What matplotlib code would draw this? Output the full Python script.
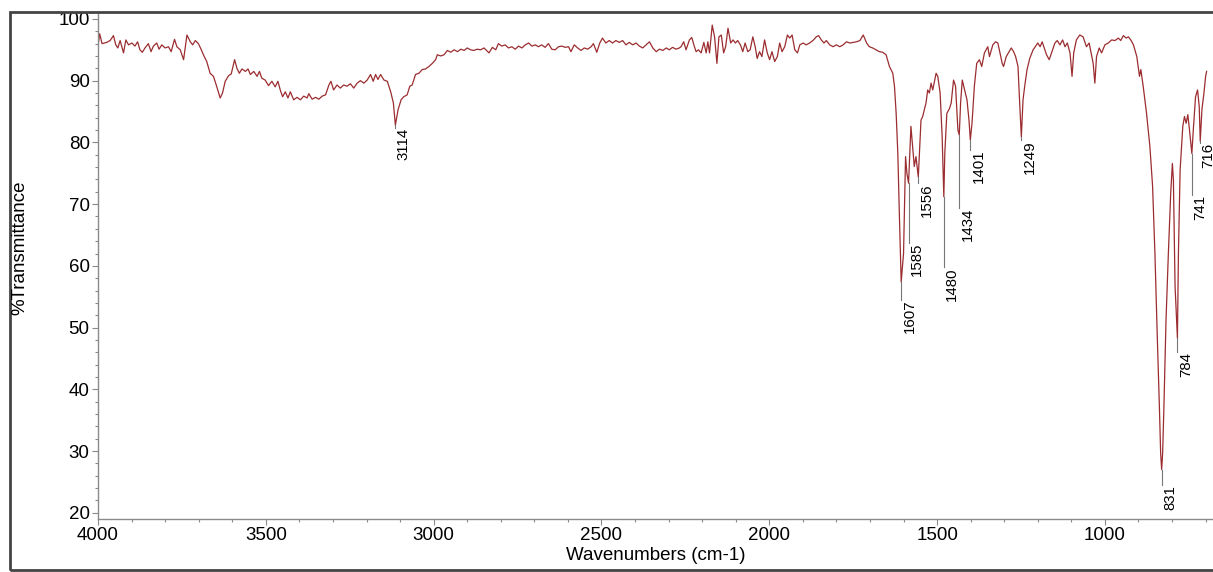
import matplotlib.pyplot as plt
from matplotlib.patches import Rectangle
from matplotlib.ticker import MultipleLocator

plt.rcParams['font.family'] = ['Liberation Sans', 'DejaVu Sans']

# spectrum (cm-1, %T)
wavenumber = [
    4000, 3995, 3988, 3974, 3964, 3954, 3947, 3941, 3934, 3924, 3917, 3909, 3899, 3890, 3882, 3875,
    3868, 3860, 3850, 3842, 3835, 3825, 3818, 3810, 3800, 3790, 3782, 3772, 3765, 3755, 3745, 3735,
    3725, 3718, 3710, 3701, 3693, 3686, 3676, 3666, 3656, 3646, 3636, 3629, 3621, 3611, 3603, 3593,
    3586, 3579, 3571, 3561, 3553, 3546, 3536, 3526, 3519, 3512, 3502, 3492, 3482, 3472, 3464, 3457,
    3450, 3442, 3434, 3427, 3417,
    3407, 3397, 3387, 3377, 3372, 3362, 3352, 3342, 3332, 3322, 3312, 3306, 3298, 3288, 3278, 3268,
    3258, 3248, 3238, 3228, 3218, 3208, 3198, 3188, 3180, 3173, 3166, 3158, 3148, 3138, 3128, 3120,
    3114, 3106, 3097, 3089, 3079, 3071, 3064, 3054, 3044, 3034, 3024, 3014, 3004, 2994, 2989, 2979,
    2969, 2959, 2949, 2939, 2929, 2919, 2909, 2900, 2890, 2880, 2870, 2860, 2850,
    2835, 2825, 2815, 2807, 2797, 2787, 2777, 2767, 2757, 2747, 2737, 2727, 2717, 2707, 2697, 2688,
    2678, 2668, 2658, 2648, 2638, 2628, 2618, 2608, 2598, 2591, 2581, 2571, 2561, 2551, 2541, 2531,
    2524, 2514, 2505, 2497, 2487, 2477, 2467, 2457, 2447, 2437, 2427, 2417, 2407, 2397, 2387, 2377,
    2367, 2357, 2347, 2337, 2327, 2317, 2307, 2298, 2288, 2278, 2268,
    2263, 2255, 2248, 2238, 2231, 2223, 2218, 2211, 2203, 2195, 2188, 2183, 2178, 2170, 2163, 2156,
    2150, 2143, 2136, 2130, 2123, 2115, 2108, 2101, 2094, 2086, 2079, 2072, 2064, 2057, 2049, 2042,
    2036, 2029, 2022, 2014, 2006, 1999, 1992, 1984, 1976, 1969, 1962, 1954, 1946, 1939, 1932, 1924,
    1916, 1909, 1899, 1890, 1880, 1870, 1860, 1853, 1845, 1837, 1830, 1820, 1810, 1800, 1790, 1780,
    1770, 1760, 1750, 1740, 1730, 1720, 1710,
    1702, 1692, 1682, 1672, 1662, 1652, 1642, 1632, 1627, 1622, 1617, 1612, 1607, 1600, 1594, 1590,
    1585, 1578, 1568, 1563, 1556, 1548, 1543, 1533, 1528, 1523, 1518, 1513, 1503, 1498, 1491, 1485,
    1480, 1477, 1471, 1463, 1458, 1451, 1445, 1438, 1434, 1430, 1425, 1418, 1411, 1405, 1401, 1396,
    1389, 1382, 1374, 1367, 1359, 1349, 1344, 1334, 1326, 1319, 1306, 1302, 1294, 1279, 1272, 1266,
    1259, 1254, 1249, 1244, 1239, 1232, 1224, 1214, 1200, 1193, 1187,
    1174, 1166, 1159, 1149, 1142, 1134, 1126, 1119, 1112, 1104, 1098, 1093, 1085, 1075, 1065, 1055,
    1047, 1040, 1035, 1030, 1025, 1017, 1010, 1000, 990, 980, 970, 960, 953, 945, 937, 930,
    923, 915, 905, 897, 893, 886, 876, 866, 858, 851, 844, 838, 834, 831, 828, 824,
    818, 811, 804, 799, 796, 791, 784, 781, 776, 768, 763, 758, 753, 748, 741, 736,
    730, 724, 719, 716, 711, 705, 700, 697,
]
transmittance = [
    95.6, 97.6, 96.0, 96.2, 96.5, 97.3, 95.8, 95.3, 96.5, 94.5, 96.6, 95.8, 96.1, 95.6, 96.3, 95.0,
    94.6, 95.3, 96.0, 94.7, 95.6, 96.1, 95.1, 95.8, 95.3, 95.5, 94.7, 96.7, 95.5, 95.0, 93.4, 97.4,
    96.3, 95.8, 96.5, 96.0, 95.1, 94.2, 93.1, 91.2, 90.7, 89.0, 87.2, 88.0, 89.9, 90.8, 91.1, 93.4,
    92.0, 91.2, 91.9, 91.5, 91.9, 91.0, 91.5, 90.7, 91.5, 90.4, 90.1, 89.2, 89.9, 89.0, 89.9, 88.5,
    87.4, 88.2, 87.2, 88.2, 86.9,
    87.3, 86.9, 87.5, 87.2, 87.9, 87.0, 87.3, 87.0, 87.5, 87.7, 89.3, 89.9, 88.5, 89.3, 88.8, 89.3,
    89.1, 89.5, 88.8, 89.6, 90.0, 89.6, 90.1, 91.0, 89.9, 91.0, 90.2, 91.0, 90.1, 89.9, 88.2, 86.4,
    82.8, 85.3, 86.9, 87.4, 87.7, 89.1, 89.3, 91.0, 91.2, 91.8, 91.9, 92.3, 92.8, 93.4, 94.2, 94.0,
    94.2, 94.9, 94.6, 95.0, 94.7, 95.1, 94.9, 95.3, 95.0, 94.9, 95.1, 95.0, 95.3,
    94.5, 95.4, 95.0, 96.0, 95.6, 95.8, 95.3, 95.5, 95.1, 95.6, 95.3, 95.8, 96.1, 95.6, 95.8, 95.5,
    95.8, 95.4, 96.0, 95.1, 95.0, 95.5, 95.6, 95.4, 95.5, 94.7, 95.8, 95.3, 94.9, 95.3, 95.1, 95.5,
    96.0, 94.6, 96.1, 96.9, 96.1, 96.5, 96.1, 96.5, 96.2, 96.5, 95.8, 96.2, 95.8, 96.1, 95.6, 95.3,
    95.8, 96.3, 95.3, 94.7, 95.1, 94.9, 95.3, 95.0, 95.4, 95.1, 95.3,
    95.5, 96.3, 95.0, 96.6, 97.0, 95.5, 94.7, 95.0, 94.5, 96.2, 94.5, 96.3, 94.5, 99.0, 97.1, 92.8,
    97.1, 97.4, 94.5, 95.5, 98.5, 96.1, 96.6, 96.1, 96.5, 95.8, 94.7, 96.1, 94.7, 95.0, 97.1, 95.5,
    93.6, 94.7, 93.9, 96.6, 94.5, 93.4, 94.7, 93.1, 93.9, 96.1, 94.7, 95.5, 97.4, 96.9, 97.4, 95.0,
    94.5, 95.8, 96.1, 95.8, 96.1, 96.5, 97.1, 97.3, 96.6, 96.1, 96.5, 95.8, 95.5, 95.8, 95.5, 95.8,
    96.3, 96.1, 96.2, 96.3, 96.5, 97.4, 96.1,
    95.5, 95.3, 95.0, 94.7, 94.6, 94.2, 92.3, 91.2, 89.1, 84.7, 78.2, 67.4, 57.4, 62.0, 77.7, 75.0,
    73.4, 82.6, 76.1, 77.7, 74.4, 83.6, 84.2, 86.4, 88.5, 88.0, 89.6, 88.5, 91.2, 90.7, 88.0, 81.0,
    71.2, 78.3, 84.7, 85.5, 86.4, 90.1, 89.1, 82.0, 81.2, 86.4, 90.1, 88.5, 86.9, 83.6, 80.4, 83.1,
    89.1, 92.8, 93.4, 92.3, 94.5, 95.5, 93.9, 95.8, 96.3, 96.1, 92.8, 92.3, 93.9, 95.3, 94.7, 93.9,
    92.3, 86.4, 80.9, 86.9, 89.1, 91.8, 93.6, 95.0, 96.1, 95.5, 96.3,
    94.2, 93.4, 94.5, 96.1, 96.5, 95.8, 96.6, 95.5, 96.1, 94.5, 90.7, 94.5, 96.6, 97.4, 97.1, 95.5,
    96.1, 94.2, 92.8, 89.6, 93.9, 95.3, 94.5, 95.8, 96.1, 96.6, 96.5, 96.9, 96.5, 97.3, 96.9, 97.1,
    96.6, 95.8, 93.9, 90.7, 91.8, 89.1, 84.7, 79.3, 72.9, 62.0, 48.5, 37.7, 29.7, 27.0, 29.7, 37.7,
    51.2, 62.0, 71.8, 76.6, 73.9, 56.6, 48.3, 62.0, 75.5, 82.6, 84.2, 83.1, 84.5, 82.0, 78.2, 82.6,
    87.4, 88.5, 85.8, 80.2, 85.3, 88.0, 90.7, 91.5,
]

# labelled peaks: position, %T at the dip, %T where the label starts
peak_wn = [3114, 1607, 1585, 1556, 1480, 1434, 1401, 1249, 831, 784, 741, 716]
peak_t = [82.8, 57.4, 73.4, 74.4, 71.2, 81.2, 80.4, 80.9, 27.0, 48.3, 78.2, 80.2]
label_t = [82.4, 54.5, 63.7, 73.4, 59.8, 69.4, 78.8, 80.4, 24.5, 46.0, 71.5, 79.9]

W, H = 1213, 572
fig = plt.figure(figsize=(W / 100, H / 100), dpi=100)
ax = fig.add_axes([98 / W, 1 - 519 / H, 1 - 98 / W, (519 - 14) / H])

ax.plot(wavenumber, transmittance, color='#9b2d30', lw=0.9)

for w, p, l in zip(peak_wn, peak_t, label_t):
    ax.plot([w, w], [p, l], color='#777777', lw=0.8)
    ax.annotate(str(w), xy=(w, l), xytext=(1, 0), textcoords='offset points',
                rotation=90, ha='left', va='top', fontsize=10.8, color='black',
                annotation_clip=False)

ax.set_xlim(4000, 678)
ax.set_ylim(19.0, 100.8)
ax.xaxis.set_major_locator(MultipleLocator(500))
ax.xaxis.set_minor_locator(MultipleLocator(100))
ax.yaxis.set_major_locator(MultipleLocator(10))
ax.yaxis.set_minor_locator(MultipleLocator(2))

for side in ['top', 'right']:
    ax.spines[side].set_visible(False)
for side in ['left', 'bottom']:
    ax.spines[side].set_color('#8a8a8a')
    ax.spines[side].set_linewidth(1.0)
ax.tick_params(which='major', length=4, width=0.8, color='#8a8a8a', labelsize=13.5, pad=2)
ax.tick_params(which='minor', length=2, width=0.8, color='#8a8a8a')

fig.text(656 / W, 1 - 555 / H, 'Wavenumbers (cm-1)', ha='center', va='center', fontsize=13.5)
fig.text(20 / W, 1 - 248 / H, '%Transmittance', ha='center', va='center',
         rotation=90, fontsize=13.5)

fig.patches.append(Rectangle((10 / W, 2 / H), 1.0, (570 - 12) / H, transform=fig.transFigure,
                             fill=False, edgecolor='#444444', lw=2))

fig.savefig('out.png', dpi=100)
